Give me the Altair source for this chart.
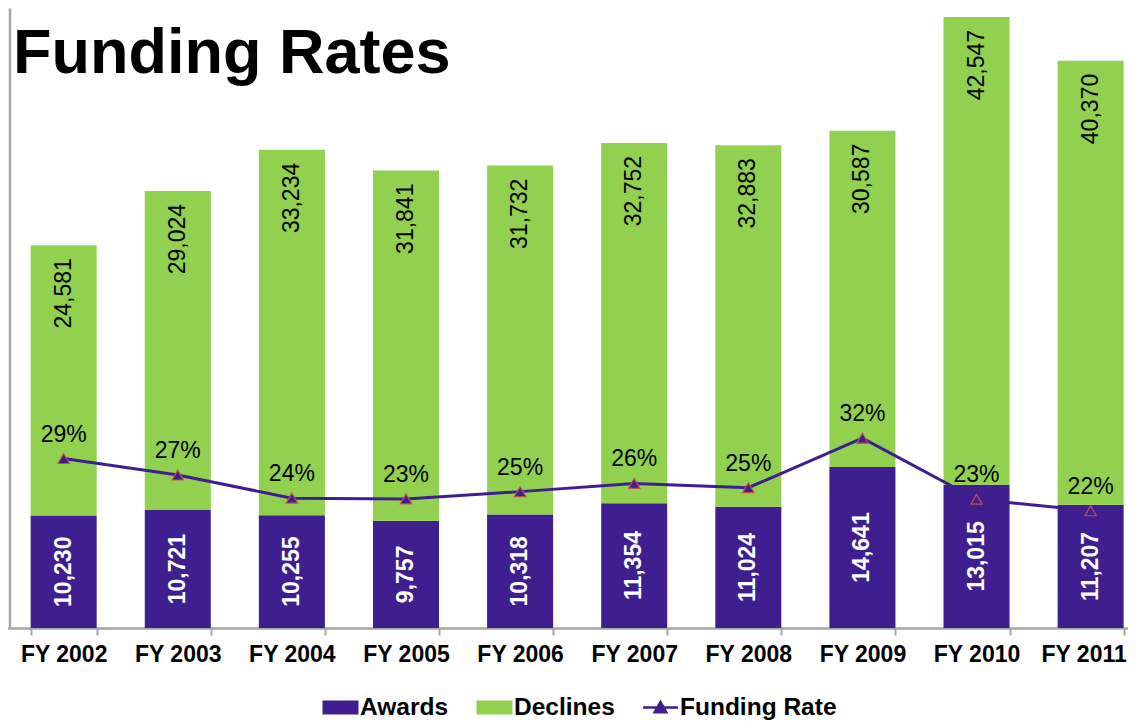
import altair as alt
import pandas as pd

years = ["FY 2002", "FY 2003", "FY 2004", "FY 2005", "FY 2006",
         "FY 2007", "FY 2008", "FY 2009", "FY 2010", "FY 2011"]
awards = [10230, 10721, 10255, 9757, 10318, 11354, 11024, 14641, 13015, 11207]
declines = [24581, 29024, 33234, 31841, 31732, 32752, 32883, 30587, 42547, 40370]
rates = [0.2939, 0.2697, 0.2358, 0.2346, 0.2454, 0.2574, 0.2511, 0.3237, 0.2342, 0.2173]
series_names = ["Awards", "Declines", "Funding Rate"]
title_text = "Funding Rates"

PURPLE = "#3F1F8F"
GREEN = "#92D050"
GRAY = "#A6A6A6"
FONT = "Liberation Sans"
colors = [PURPLE, GREEN, PURPLE]

wide = pd.DataFrame({"year": years, "awards": awards, "declines": declines,
                     "rate": rates, "series": "Funding Rate"})
long = pd.DataFrame({
    "year": years + years,
    "series": ["Awards"] * len(years) + ["Declines"] * len(years),
    "value": awards + declines,
    "order": [0] * len(years) + [1] * len(years),
})
leg = pd.DataFrame({"series": series_names})
ttl = pd.DataFrame({"t": [title_text]})

xscale = alt.Scale(domain=years, range=[-4.3, 1136.6], paddingInner=0.4215, paddingOuter=0.21)
x_axis = alt.Axis(title=None, labelAngle=0, labelFont=FONT, labelFontSize=23,
                  labelFontWeight="bold", labelColor="black", labelPadding=8,
                  labelOffset={"condition": {"test": "datum.value === 'FY 2011'", "value": -7},
                               "value": 0},
                  domainColor=GRAY, domainWidth=2.5, tickColor=GRAY, tickWidth=2,
                  tickSize=7, tickBand="extent", grid=False)
X = alt.X("year:N", scale=xscale, axis=x_axis, sort=years)

y1 = alt.Scale(domain=[0, 56379], nice=False, zero=True)
y2 = alt.Scale(domain=[0.04545, 0.9545], nice=False, zero=False)
y_axis = alt.Axis(title=None, labels=False, ticks=False, grid=False, domain=True,
                  domainColor=GRAY, domainWidth=2.5, offset=1.5)

fill_scale = alt.Scale(domain=series_names, range=colors)
stroke_scale = alt.Scale(domain=series_names, range=colors)
rect_path = "M-0.93,-0.32H0.93V0.32H-0.93Z"
line_path = "M-0.97,0H0.97M-0.32,0.26L0,-0.3L0.32,0.26Z"
shape_scale = alt.Scale(domain=series_names, range=[rect_path, rect_path, line_path])

LEG = alt.Legend(orient="none", legendX=310, legendY=680, direction="horizontal",
                 title=None, labelFont=FONT, labelFontSize=24.5, labelFontWeight="bold",
                 labelColor="black", symbolSize=1296, symbolStrokeWidth=2.5,
                 labelOffset=0, columnPadding=23, padding=0, symbolOpacity=1)

bars = alt.Chart(long).mark_bar().encode(
    x=X,
    y=alt.Y("value:Q", stack="zero", scale=y1, axis=y_axis),
    fill=alt.Fill("series:N", scale=fill_scale, legend=LEG),
    order=alt.Order("order:Q"),
)

line = alt.Chart(wide).mark_line(strokeWidth=3).encode(
    x=X,
    y=alt.Y("rate:Q", scale=y2, axis=None),
    stroke=alt.Stroke("series:N", scale=stroke_scale, legend=LEG),
)

pts = alt.Chart(wide).mark_point(shape="triangle-up", filled=True, fill=PURPLE,
                                 stroke="#C0504D", strokeWidth=1.2, size=130,
                                 opacity=1).encode(
    x=X,
    y=alt.Y("rate:Q", scale=y2, axis=None),
)

aw_lab = alt.Chart(wide).transform_calculate(mid="datum.awards / 2").mark_text(
    angle=270, align="center", baseline="middle", font=FONT, fontSize=23,
    fontWeight="bold", color="white").encode(
    x=X,
    y=alt.Y("mid:Q", scale=y1, axis=None),
    text=alt.Text("awards:Q", format=","),
)

dec_lab = alt.Chart(wide).transform_calculate(total="datum.awards + datum.declines").mark_text(
    angle=270, align="right", baseline="middle", dx=-13, font=FONT, fontSize=23,
    color="black").encode(
    x=X,
    y=alt.Y("total:Q", scale=y1, axis=None),
    text=alt.Text("declines:Q", format=","),
)

rate_lab = alt.Chart(wide).mark_text(dy=-24, font=FONT, fontSize=23, color="black").encode(
    x=X,
    y=alt.Y("rate:Q", scale=y2, axis=None),
    text=alt.Text("rate:Q", format=".0%"),
)

title = alt.Chart(ttl).mark_text(align="left", baseline="alphabetic", font=FONT,
                                 fontSize=63, fontWeight="bold", color="black").encode(
    x=alt.value(2), y=alt.value(65), text="t:N")

legend_layer = alt.Chart(leg).mark_point(filled=True, opacity=1).encode(
    x=alt.value(-300), y=alt.value(-300),
    fill=alt.Fill("series:N", scale=fill_scale, legend=LEG),
    stroke=alt.Stroke("series:N", scale=stroke_scale, legend=LEG),
    shape=alt.Shape("series:N", scale=shape_scale, legend=LEG),
)

chart = alt.layer(bars, line, pts, aw_lab, dec_lab, rate_lab, title, legend_layer).resolve_scale(
    y="independent"
).properties(
    width=1117, height=620,
    autosize=alt.AutoSizeParams(type="none"),
    padding={"left": 3, "top": 0, "right": 0, "bottom": 94},
).configure_view(stroke=None)

chart.save("out.html", embed_options={"renderer": "svg", "actions": False})
